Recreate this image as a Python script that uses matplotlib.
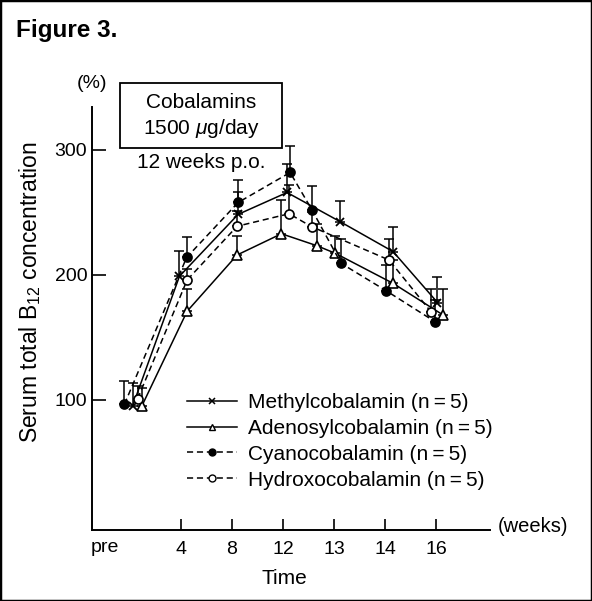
import matplotlib
matplotlib.use("Agg")
import matplotlib.pyplot as plt
from matplotlib.lines import Line2D
from matplotlib.patches import Rectangle

plt.rcParams['font.family'] = ['Liberation Sans', 'DejaVu Sans']
plt.rcParams['mathtext.fontset'] = 'custom'
plt.rcParams['mathtext.rm'] = 'Liberation Sans'
plt.rcParams['mathtext.it'] = 'Liberation Sans:italic'

# ---- data ----
tick_labels = ['4', '8', '12', '13', '14', '16']
tick_pos = [1, 2, 3, 4, 5, 6]
pre_label_pos = -0.49

methyl_x = [0.05, 0.97, 2.12, 3.08, 4.12, 5.16, 6.03]
methyl_y = [95, 199, 248.5, 266, 242.7, 218.7, 178]
methyl_top = [114, 219.4, 266.7, 288.5, 259.3, 238.7, 198]

adeno_x = [0.23, 1.12, 2.10, 2.97, 3.66, 4.03, 5.16, 6.14]
adeno_y = [95, 171, 216, 233, 223.5, 217.3, 193.3, 168]
adeno_top = [110, 189, 231, 260, 241, 231, 212, 188.5]

cyano_x = [-0.11, 1.11, 2.12, 3.14, 3.57, 4.14, 5.02, 5.98]
cyano_y = [96.5, 214, 258, 282, 252, 209.3, 187.5, 162.7]
cyano_top = [115, 230, 276, 303, 271.5, 229, 208, 180]

hydroxo_x = [0.15, 1.12, 2.10, 3.12, 3.56, 5.08, 5.90]
hydroxo_y = [101, 196, 239, 249, 238.7, 212, 170.7]
hydroxo_top = [111, 205, 251, 272, 250, 229, 189]

labels = ['Methylcobalamin (n\u2009=\u20095)', 'Adenosylcobalamin (n\u2009=\u20095)',
          'Cyanocobalamin (n\u2009=\u20095)', 'Hydroxocobalamin (n\u2009=\u20095)']

W, H = 592, 601
fig = plt.figure(figsize=(W / 100, H / 100), dpi=100)
L, R, B, T = 91.5, 490, 530, 107
ax = fig.add_axes([L / W, 1 - B / H, (R - L) / W, (B - T) / H])

dash = (4, 2.5)
specs = [
    (methyl_x, methyl_y, methyl_top, '-', 'x', 'black', 5.5, 1.3),
    (adeno_x, adeno_y, adeno_top, '-', '^', 'white', 7, 1.2),
    (cyano_x, cyano_y, cyano_top, '--', 'o', 'black', 6.5, 1.2),
    (hydroxo_x, hydroxo_y, hydroxo_top, '--', 'o', 'white', 6.5, 1.2),
]
for xs, ys, tops, ls, mk, fc, ms, mew in specs:
    err_up = [t - y for t, y in zip(tops, ys)]
    err_lo = [0] * len(ys)
    ax.errorbar(xs, ys, yerr=[err_lo, err_up], fmt='none', ecolor='black',
                elinewidth=1.1, capsize=3.8, capthick=1.1, zorder=2)
    line, = ax.plot(xs, ys, color='black', lw=1.1, zorder=3,
                    marker=mk, markersize=ms, markerfacecolor=fc,
                    markeredgecolor='black', markeredgewidth=mew)
    if ls == '--':
        line.set_dashes(dash)

ax.set_xlim(-0.755, 7.06)
ax.set_ylim(-4, 334.4)
ax.spines['top'].set_visible(False)
ax.spines['right'].set_visible(False)
ax.spines['left'].set_linewidth(1.4)
ax.spines['bottom'].set_linewidth(1.4)

ax.set_yticks([100, 200, 300])
ax.set_yticklabels(['100', '200', '300'], fontsize=14)
ax.tick_params(axis='y', direction='in', length=10, width=1.2, pad=3)
ax.set_xticks(tick_pos)
ax.set_xticklabels(tick_labels, fontsize=14)
ax.tick_params(axis='x', direction='in', length=8, width=1.2, pad=8)
ax.text(pre_label_pos, -4 - 7, 'pre', fontsize=14, ha='center', va='top',
        transform=ax.transData)

# legend
handles = [
    Line2D([], [], color='black', lw=1.1, marker='x', markersize=4,
           markeredgewidth=1.1),
    Line2D([], [], color='black', lw=1.1, marker='^', markersize=5,
           markerfacecolor='white', markeredgewidth=1.0),
    Line2D([], [], color='black', lw=1.1, ls=(0, dash), marker='o',
           markersize=5, markerfacecolor='black'),
    Line2D([], [], color='black', lw=1.1, ls=(0, dash), marker='o',
           markersize=5, markerfacecolor='white', markeredgewidth=1.0),
]
fig.legend(handles, labels, loc='upper left',
           bbox_to_anchor=(187 / W, 1 - 393 / H), frameon=False,
           fontsize=15, handlelength=2.4, handletextpad=0.55,
           labelspacing=0.33, borderpad=0, borderaxespad=0)

# texts
fig.text(16 / W, 1 - 31 / H, 'Figure 3.', fontsize=17.5, fontweight='bold',
         va='center', ha='left')
fig.text(92 / W, 1 - 84 / H, '(%)', fontsize=14, ha='center', va='center')
fig.text(30 / W, 1 - 292 / H, r'Serum total B$_{\mathregular{12}}$ concentration',
         fontsize=16.5, rotation=90, ha='center', va='center')
fig.text(533 / W, 1 - 527 / H, '(weeks)', fontsize=14.5, ha='center',
         va='center')
fig.text(284 / W, 1 - 578 / H, 'Time', fontsize=15, ha='center', va='center')

fig.patches.append(Rectangle((120 / W, 1 - 148 / H), 162 / W, 65 / H,
                             transform=fig.transFigure, fill=False,
                             edgecolor='black', lw=1.3))
fig.text(201 / W, 1 - 103 / H, 'Cobalamins', fontsize=15, ha='center',
         va='center')
fig.text(201 / W, 1 - 128 / H, r'1500 $\mu$g/day', fontsize=15, ha='center',
         va='center')
fig.text(201 / W, 1 - 162 / H, '12 weeks p.o.', fontsize=15, ha='center',
         va='center')

fig.patches.append(Rectangle((0, 0), 1, 1, transform=fig.transFigure,
                             fill=False, edgecolor='black', lw=2.5))

fig.savefig('out.png', dpi=100)
